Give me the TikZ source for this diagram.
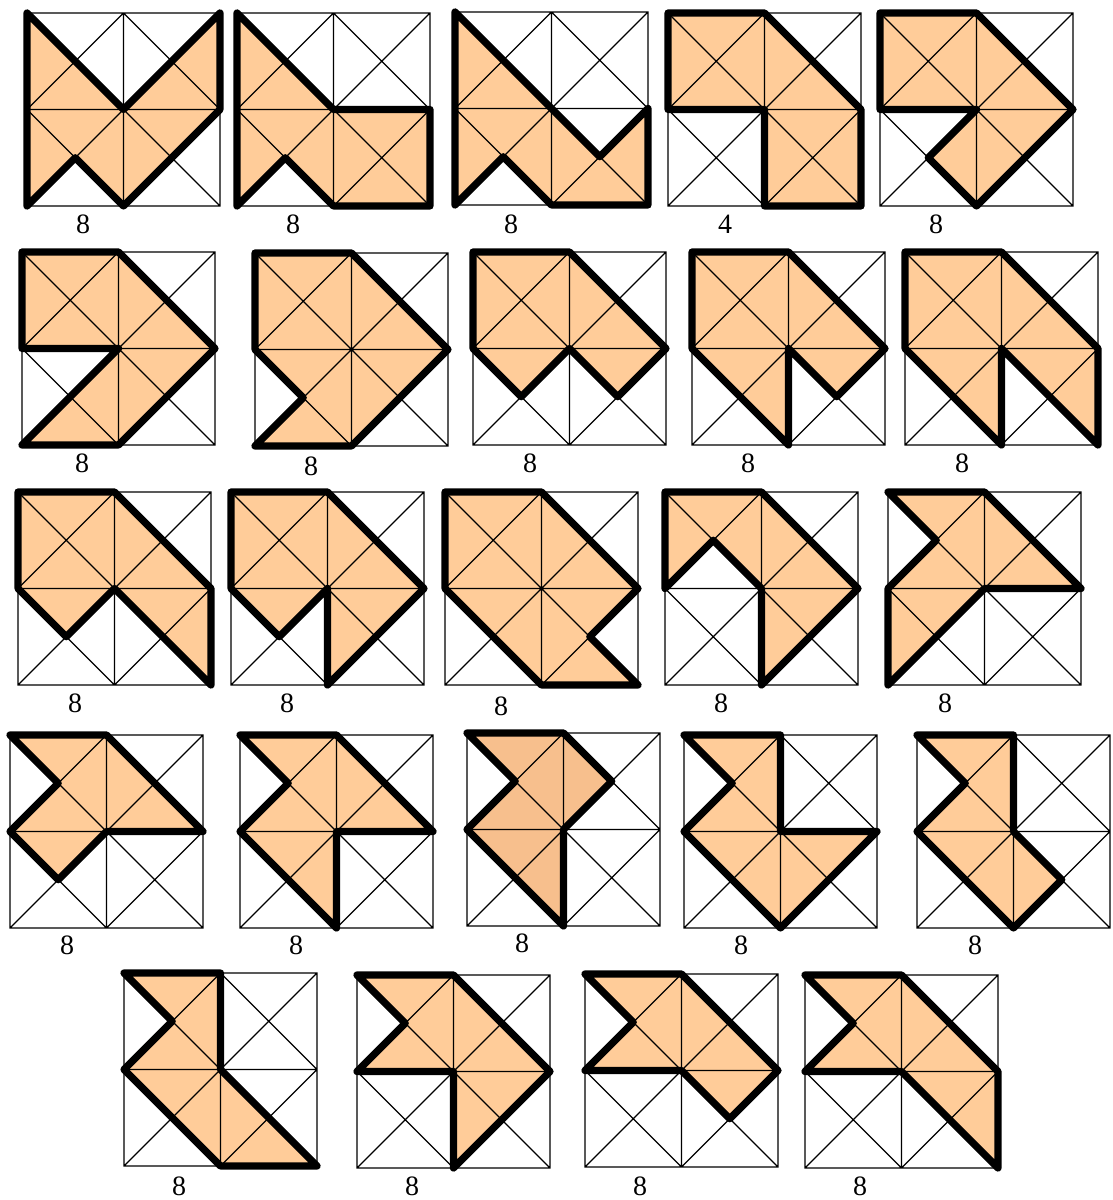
\documentclass[tikz,border=0pt]{standalone}
\usepackage{fontspec}
\setmainfont{Liberation Serif}
\definecolor{peach}{HTML}{FFCC99}
\definecolor{peachdark}{HTML}{F7BF8D}
\tikzset{
  gridline/.style={line width=1.3pt, black},
  outline/.style={line width=7.2pt, black, line join=round, line cap=round},
  countlabel/.style={font=\fontsize{28}{30}\selectfont, inner sep=0pt, anchor=center}
}
% #1 left, #2 bottom (y up), #3 polygon, #4 fill colour
\newcommand\tangrid[4]{%
\begin{scope}[shift={(#1pt,#2pt)}, x=48.25pt, y=48.25pt]
\fill[#4] #3 -- cycle;
\draw[gridline] (0,0) rectangle (4,4) (0,2)--(4,2) (2,0)--(2,4)
  (0,0)--(4,4) (0,4)--(4,0) (0,2)--(2,4) (2,0)--(4,2) (0,2)--(2,0) (2,4)--(4,2);
\draw[outline] #3 -- cycle;
\end{scope}}
\begin{document}
\begin{tikzpicture}[x=1pt,y=1pt]
\useasboundingbox (0,0) rectangle (1112,1200);
% Row 1
\tangrid{27}{994}{(0,4)--(2,2)--(4,4)--(4,2)--(2,0)--(1,1)--(0,0)}{peach}
\tangrid{237}{994}{(0,4)--(2,2)--(4,2)--(4,0)--(2,0)--(1,1)--(0,0)}{peach}
\tangrid{455}{995}{(0,4)--(2,2)--(3,1)--(4,2)--(4,0)--(2,0)--(1,1)--(0,0)}{peach}
\tangrid{668}{994}{(0,4)--(2,4)--(4,2)--(4,0)--(2,0)--(2,2)--(0,2)}{peach}
\tangrid{880}{994}{(0,4)--(2,4)--(4,2)--(2,0)--(1,1)--(2,2)--(0,2)}{peach}
% Row 2
\tangrid{22}{755}{(0,4)--(2,4)--(4,2)--(2,0)--(0,0)--(2,2)--(0,2)}{peach}
\tangrid{255}{754}{(0,4)--(2,4)--(4,2)--(2,0)--(0,0)--(1,1)--(0,2)}{peach}
\tangrid{473}{755}{(0,4)--(2,4)--(4,2)--(3,1)--(2,2)--(1,1)--(0,2)}{peach}
\tangrid{692}{755}{(0,4)--(2,4)--(4,2)--(3,1)--(2,2)--(2,0)--(0,2)}{peach}
\tangrid{905}{755}{(0,4)--(2,4)--(4,2)--(4,0)--(2,2)--(2,0)--(0,2)}{peach}
% Row 3
\tangrid{18}{515}{(0,4)--(2,4)--(4,2)--(4,0)--(2,2)--(1,1)--(0,2)}{peach}
\tangrid{231}{515}{(0,4)--(2,4)--(4,2)--(2,0)--(2,2)--(1,1)--(0,2)}{peach}
\tangrid{445}{515}{(0,4)--(2,4)--(4,2)--(3,1)--(4,0)--(2,0)--(0,2)}{peach}
\tangrid{665}{515}{(0,4)--(2,4)--(4,2)--(2,0)--(2,2)--(1,3)--(0,2)}{peach}
\tangrid{888}{515}{(0,4)--(1,3)--(0,2)--(0,0)--(2,2)--(4,2)--(2,4)}{peach}
% Row 4
\tangrid{10}{272}{(0,4)--(2,4)--(4,2)--(2,2)--(1,1)--(0,2)--(1,3)}{peach}
\tangrid{240}{272}{(0,4)--(2,4)--(4,2)--(2,2)--(2,0)--(0,2)--(1,3)}{peach}
\tangrid{467}{274}{(0,4)--(2,4)--(3,3)--(2,2)--(2,0)--(0,2)--(1,3)}{peachdark}
\tangrid{684}{272}{(0,4)--(2,4)--(2,2)--(4,2)--(2,0)--(0,2)--(1,3)}{peach}
\tangrid{917}{272}{(0,4)--(2,4)--(2,2)--(3,1)--(2,0)--(0,2)--(1,3)}{peach}
% Row 5
\tangrid{124}{34}{(0,4)--(2,4)--(2,2)--(4,0)--(2,0)--(0,2)--(1,3)}{peach}
\tangrid{357}{32}{(0,4)--(2,4)--(4,2)--(2,0)--(2,2)--(0,2)--(1,3)}{peach}
\tangrid{585}{33}{(0,4)--(2,4)--(4,2)--(3,1)--(2,2)--(0,2)--(1,3)}{peach}
\tangrid{805}{32}{(0,4)--(2,4)--(4,2)--(4,0)--(2,2)--(0,2)--(1,3)}{peach}
% Labels
\node[countlabel] (l1) at (83,976) {8};
\node[countlabel] (l2) at (293,976) {8};
\node[countlabel] (l3) at (511,976) {8};
\node[countlabel] (l4) at (725,976) {4};
\node[countlabel] (l5) at (936,976) {8};
\node[countlabel] (l6) at (82,737) {8};
\node[countlabel] (l7) at (311,734) {8};
\node[countlabel] (l8) at (530,737) {8};
\node[countlabel] (l9) at (748,737) {8};
\node[countlabel] (l10) at (962,737) {8};
\node[countlabel] (l11) at (75,497) {8};
\node[countlabel] (l12) at (287,497) {8};
\node[countlabel] (l13) at (501,494) {8};
\node[countlabel] (l14) at (721,497) {8};
\node[countlabel] (l15) at (945,497) {8};
\node[countlabel] (l16) at (67,255) {8};
\node[countlabel] (l17) at (296,255) {8};
\node[countlabel] (l18) at (522,257) {8};
\node[countlabel] (l19) at (741,255) {8};
\node[countlabel] (l20) at (975,255) {8};
\node[countlabel] (l21) at (179,14) {8};
\node[countlabel] (l22) at (412,14) {8};
\node[countlabel] (l23) at (640,14) {8};
\node[countlabel] (l24) at (860,14) {8};
\end{tikzpicture}
\end{document}
